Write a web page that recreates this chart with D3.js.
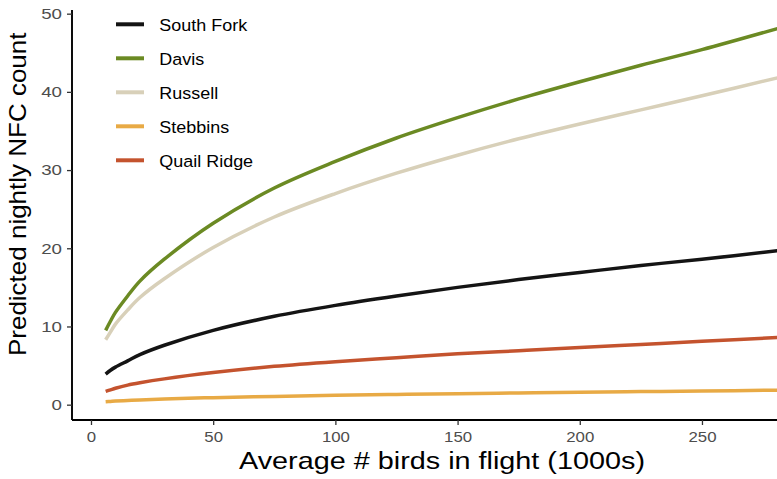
<!DOCTYPE html>
<html>
<head>
<meta charset="utf-8">
<script src="https://cdn.jsdelivr.net/npm/d3@7"></script>
<style>
  body { margin: 0; background: #fff; }
  text { font-family: "Liberation Sans", Arial, sans-serif; }
</style>
</head>
<body>
<div id="chart"></div>
<script>
// values
const birds = [6, 8, 10, 15, 20, 30, 50, 75, 100, 125, 150, 175, 200, 225, 250, 281];
const southFork = [3.9, 4.4, 4.8, 5.6, 6.4, 7.6, 9.5, 11.3, 12.7, 13.9, 15.0, 16.0, 16.9, 17.8, 18.6, 19.7];
const davis = [9.5, 10.7, 11.8, 13.9, 15.8, 18.6, 23.2, 27.7, 31.1, 34.1, 36.7, 39.1, 41.3, 43.4, 45.4, 48.1];
const russell = [8.3, 9.3, 10.3, 12.1, 13.7, 16.1, 20.1, 24.0, 27.0, 29.6, 31.9, 34.0, 35.9, 37.7, 39.5, 41.8];
const stebbins = [0.37, 0.42, 0.46, 0.54, 0.61, 0.72, 0.9, 1.06, 1.2, 1.31, 1.41, 1.5, 1.59, 1.67, 1.75, 1.85];
const quailRidge = [1.7, 1.9, 2.1, 2.5, 2.8, 3.3, 4.1, 4.9, 5.5, 6.0, 6.5, 6.9, 7.3, 7.7, 8.1, 8.6];

const siteNames = ["South Fork", "Davis", "Russell", "Stebbins", "Quail Ridge"];
const siteColors = ["#141414", "#6b8a23", "#d8d0b9", "#e8aa45", "#c4532e"];
const xTicks = [0, 50, 100, 150, 200, 250];
const yTicks = [0, 10, 20, 30, 40, 50];

const series = [southFork, davis, russell, stebbins, quailRidge].map((vals, i) => ({
    name: siteNames[i],
    color: siteColors[i],
    points: vals.map((v, j) => ({x: birds[j], y: v}))
}));

const width = 777, height = 479;
const panel = {left: 72, right: 777, top: 10, bottom: 420};

const x = d3.scaleLinear().domain([-7.77, 280.7]).range([panel.left, panel.right]);
const y = d3.scaleLinear().domain([-1.96, 50.47]).range([panel.bottom, panel.top]);

const svg = d3.select("#chart").append("svg")
    .attr("width", width)
    .attr("height", height);

svg.append("clipPath").attr("id", "panel-clip")
    .append("rect")
    .attr("x", panel.left).attr("y", panel.top)
    .attr("width", panel.right - panel.left).attr("height", panel.bottom - panel.top);

const line = d3.line()
    .x(d => x(d.x))
    .y(d => y(d.y))
    .curve(d3.curveCatmullRom.alpha(0.5));

svg.append("g").attr("clip-path", "url(#panel-clip)")
    .selectAll("path")
    .data(series)
    .enter().append("path")
    .attr("d", d => line(d.points))
    .attr("fill", "none")
    .attr("stroke", d => d.color)
    .attr("stroke-width", 3.5)
    .attr("stroke-linecap", "butt");

// axes
const xAxis = svg.append("g")
    .attr("transform", `translate(0,${panel.bottom})`)
    .call(d3.axisBottom(x).tickValues(xTicks).tickSize(5).tickPadding(6.7));
const yAxis = svg.append("g")
    .attr("transform", `translate(${panel.left},0)`)
    .call(d3.axisLeft(y).tickValues(yTicks).tickSize(5).tickPadding(3));

[xAxis, yAxis].forEach(g => {
    g.select(".domain").attr("stroke", "#000").attr("stroke-width", 1.9);
    g.selectAll(".tick line").attr("stroke", "#333").attr("stroke-width", 1.3);
    g.selectAll(".tick text")
        .attr("fill", "#4d4d4d")
        .style("font-family", "'Liberation Sans', Arial, sans-serif");
});
xAxis.selectAll(".tick text").attr("font-size", 14).attr("transform", "scale(1.2,1)");
yAxis.selectAll(".tick text").attr("font-size", 15).attr("transform", "scale(1.25,1)");
// keep the axis lines exactly at the panel edges
xAxis.select(".domain").attr("d", `M${panel.left},0H${panel.right}`);
yAxis.select(".domain").attr("d", `M0,${panel.top}V${panel.bottom}`);

svg.append("text")
    .attr("transform", "translate(442,469) scale(1.2,1)")
    .attr("text-anchor", "middle")
    .attr("font-size", 24)
    .attr("fill", "#000")
    .text("Average # birds in flight (1000s)");

svg.append("text")
    .attr("transform", "translate(26,194.3) rotate(-90) scale(1,0.9)")
    .attr("text-anchor", "middle")
    .attr("font-size", 26)
    .attr("fill", "#000")
    .text("Predicted nightly NFC count");

// legend
const legend = svg.append("g")
    .selectAll("g")
    .data(series)
    .enter().append("g")
    .attr("transform", (d, i) => `translate(116,${24.3 + i * 34})`);

legend.append("line")
    .attr("x1", 0).attr("x2", 28)
    .attr("stroke", d => d.color)
    .attr("stroke-width", 4);

legend.append("text")
    .attr("transform", "translate(43.3,6.5) scale(1.07,1)")
    .attr("font-size", 16.8)
    .attr("fill", "#000")
    .text(d => d.name);
</script>
</body>
</html>
